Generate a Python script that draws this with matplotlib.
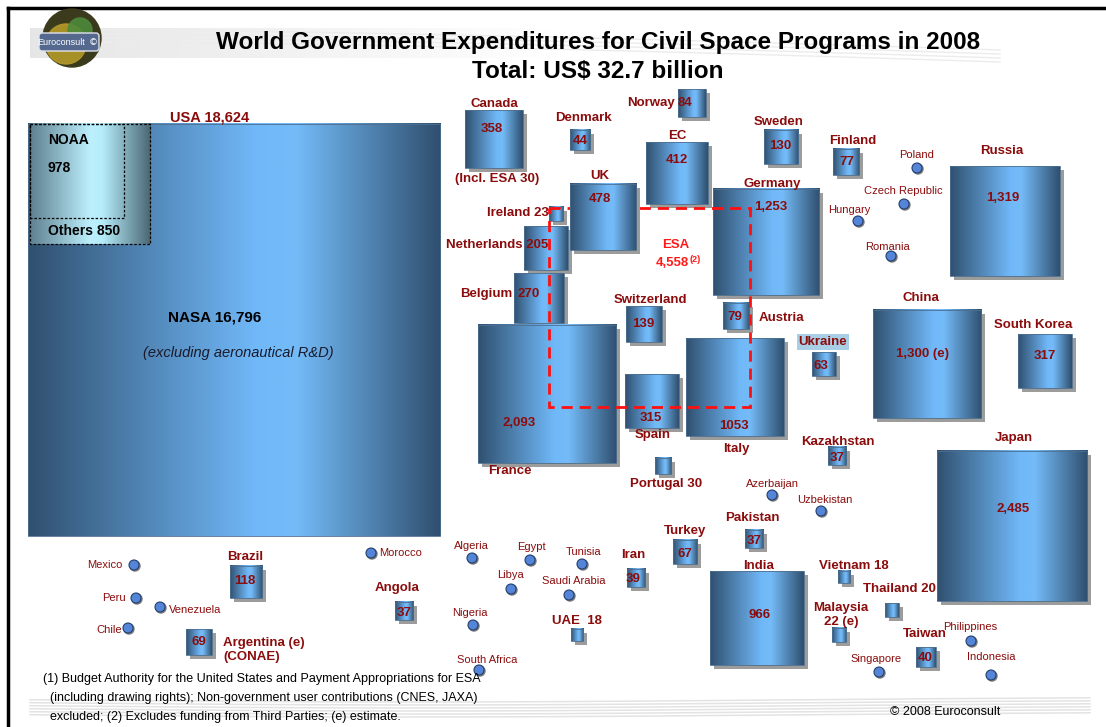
import matplotlib.pyplot as plt
import numpy as np
from matplotlib.colors import LinearSegmentedColormap
from matplotlib.patches import Rectangle, Circle, FancyBboxPatch

# ---- data (US$ million, 2008) ----
countries = ['USA', 'Canada', 'Denmark', 'Norway', 'EC', 'Sweden', 'Finland', 'UK', 'Ireland',
             'Germany', 'Netherlands', 'Belgium', 'Switzerland', 'Austria', 'France', 'Spain',
             'Italy', 'Portugal', 'Ukraine', 'Kazakhstan', 'China', 'South Korea', 'Russia',
             'Japan', 'India', 'Pakistan', 'Turkey', 'Iran', 'UAE', 'Vietnam', 'Thailand',
             'Malaysia', 'Taiwan', 'Brazil', 'Argentina', 'Angola']
values = [18624, 358, 44, 84, 412, 130, 77, 478, 23,
          1253, 205, 270, 139, 79, 2093, 315,
          1053, 30, 63, 37, 1300, 317, 1319,
          2485, 966, 37, 67, 39, 18, 18, 20,
          22, 40, 118, 69, 37]
name_labels = ['USA 18,624', 'Canada', 'Denmark', 'Norway', 'EC', 'Sweden', 'Finland', 'UK', 'Ireland 23',
               'Germany', 'Netherlands 205', 'Belgium', 'Switzerland', 'Austria', 'France', 'Spain',
               'Italy', 'Portugal 30', 'Ukraine', 'Kazakhstan', 'China', 'South Korea', 'Russia',
               'Japan', 'India', 'Pakistan', 'Turkey', 'Iran', 'UAE  18', 'Vietnam 18', 'Thailand 20',
               'Malaysia\n22 (e)', 'Taiwan', 'Brazil', 'Argentina (e)\n(CONAE)', 'Angola']
value_labels = ['', '358', '44', '84', '412', '130', '77', '478', '',
                '1,253', '', '270', '139', '79', '2,093', '315',
                '1053', '', '63', '37', '1,300 (e)', '317', '1,319',
                '2,485', '966', '37', '67', '39', '', '', '',
                '', '40', '118', '69', '37']

usa_parts = ['NOAA', 'Others']
usa_part_values = [978, 850]
nasa_value = 16796
esa_total = 4558

dot_countries = ['Mexico', 'Peru', 'Venezuela', 'Chile', 'Morocco', 'Algeria', 'Egypt', 'Tunisia',
                 'Libya', 'Saudi Arabia', 'Nigeria', 'South Africa', 'Azerbaijan', 'Uzbekistan',
                 'Singapore', 'Indonesia', 'Philippines', 'Poland', 'Czech Republic', 'Hungary', 'Romania']

# ---- layout (pixel positions on the page) ----
SCALE = 3.02  # px per sqrt(US$ million)
sq_centers = [(234, 330), (494, 139), (580, 140), (692, 103), (677, 173), (781, 147), (846, 162),
              (603, 217), (556, 214), (766, 242), (546, 248), (539, 298), (644, 324), (736, 316),
              (547, 394), (652, 401), (735, 387), (663, 466), (824, 364), (837, 456), (927, 364),
              (1045, 361), (1005, 221), (1012, 526), (757, 618), (754, 539), (685, 552), (636, 578),
              (577, 635), (844, 577), (892, 610), (839, 635), (926, 657), (246, 582), (199, 642),
              (404, 611)]
name_xy = [(210, 118, 'center'), (494, 104, 'center'), (583, 118, 'center'), (675, 103, 'right'),
           (677, 136, 'center'), (779, 122, 'center'), (853, 141, 'center'), (600, 176, 'center'),
           (549, 213, 'right'), (772, 184, 'center'), (548, 245, 'right'), (512, 294, 'right'),
           (650, 300, 'center'), (759, 318, 'left'), (510, 471, 'center'), (653, 435, 'center'),
           (736, 449, 'center'), (666, 484, 'center'), (823, 342, 'center'), (838, 442, 'center'),
           (921, 298, 'center'), (1033, 325, 'center'), (1002, 151, 'center'), (1014, 438, 'center'),
           (759, 566, 'center'), (752, 518, 'center'), (685, 531, 'center'), (633, 555, 'center'),
           (577, 621, 'center'), (854, 566, 'center'), (899, 589, 'center'), (841, 615, 'center'),
           (925, 634, 'center'), (245, 557, 'center'), (223, 650, 'left'), (397, 588, 'center')]
value_xy = [None, (492, 129), (580, 141), (685, 103), (677, 160), (780, 146), (847, 162), (600, 199),
            None, (771, 207), None, (529, 294), (643, 324), (735, 317), (519, 423), (651, 418),
            (734, 426), None, (821, 366), (837, 458), (922, 354), (1045, 356), (1003, 198),
            (1013, 509), (760, 615), (754, 541), (685, 554), (633, 579), None, None, None,
            None, (925, 658), (245, 581), (199, 642), (404, 613)]
dot_xy = [(134, 565), (136, 598), (160, 607), (128, 628), (371, 553), (472, 558), (530, 560),
          (582, 564), (511, 589), (569, 595), (473, 625), (479, 670), (772, 495), (821, 511),
          (879, 672), (991, 675), (971, 641), (917, 168), (904, 204), (858, 221), (891, 256)]
dot_label_xy = [(123, 565, 'right'), (126, 598, 'right'), (169, 610, 'left'), (122, 630, 'right'),
                (379, 553, 'left'), (471, 546, 'center'), (531, 547, 'center'), (584, 552, 'center'),
                (510, 575, 'center'), (574, 581, 'center'), (470, 613, 'center'), (487, 660, 'center'),
                (772, 484, 'center'), (825, 500, 'center'), (876, 659, 'center'), (991, 657, 'center'),
                (970, 627, 'center'), (917, 155, 'center'), (903, 191, 'center'), (849, 210, 'center'),
                (888, 247, 'center')]
esa_box = (549, 208, 201, 199)

RED = '#8b0c0c'
FONT = 'Liberation Sans'

sq_cmap = LinearSegmentedColormap.from_list(
    'sq', [(0, '#30506f'), (0.55, '#70b8f8'), (0.65, '#74bbf8'), (1, '#2f4f6e')])
noaa_cmap = LinearSegmentedColormap.from_list(
    'noaa', [(0, '#5f8090'), (0.5, '#bdf0fd'), (0.6, '#b6ecfa'), (1, '#4a6672')])
grad = np.linspace(0, 1, 256).reshape(1, -1)


def gradient_square(ax, x0, y0, side, cmap, z, shadow=True):
    if shadow:
        ax.add_patch(Rectangle((x0 + 4, y0 + 4), side, side, color='#9c9c9c', lw=0, zorder=z - 0.1))
    ax.imshow(grad, cmap=cmap, extent=(x0, x0 + side, y0 + side, y0), aspect='auto',
              interpolation='bilinear', zorder=z)
    ax.add_patch(Rectangle((x0, y0), side, side, fill=False, ec='#4d6f90', lw=0.6, zorder=z + 0.05))


fig = plt.figure(figsize=(11.06, 7.27), dpi=100)
ax = fig.add_axes([0, 0, 1, 1])
ax.axis('off')

# page frame
ax.plot([8, 1106], [8, 8], color='black', lw=2.5, zorder=1)
ax.plot([8, 8], [8, 727], color='black', lw=2.5, zorder=1)

# gray swooshes
band = np.zeros((1, 256, 4))
band[..., :3] = 0.86
band[..., 3] = np.linspace(0.7, 0.0, 256)
ax.imshow(band, extent=(30, 560, 58, 28), aspect='auto', interpolation='bilinear', zorder=0.5)
xs = np.linspace(100, 1000, 200)
for k in range(4):
    ax.plot(xs, 30 + k * 4 + 20 * ((xs - 100) / 900) ** 1.5, color='#ececec', lw=1.0, zorder=0.5)
xs = np.linspace(30, 1090, 200)
for k in range(6):
    ax.plot(xs, 712 - k * 3 + 5 * np.exp(-((xs - 420) / 500) ** 2), color='#e3e3e3',
            lw=1.1, zorder=0.5)

# logo
ax.add_patch(Circle((72, 38), 29, color='#3b3a1c', zorder=5))
ax.add_patch(Circle((66, 44), 20, color='#b59a2a', alpha=0.9, zorder=5.1))
ax.add_patch(Circle((80, 30), 12, color='#4d8a3a', alpha=0.9, zorder=5.2))
ax.add_patch(FancyBboxPatch((40, 34), 58, 16, boxstyle='round,pad=1,rounding_size=3',
                            fc='#55698f', ec='#dfe3ec', lw=1, zorder=6))
ax.text(61, 42.5, 'Euroconsult', color='white', fontsize=6.5, ha='center', va='center',
        family=FONT, zorder=7)
ax.text(93, 42.5, '\u00a9', color='white', fontsize=6.5, ha='center', va='center', zorder=7)

# title
ax.text(598, 43, 'World Government Expenditures for Civil Space Programs in 2008', fontsize=17.5,
        fontweight='bold', ha='center', va='center', family=FONT, color='black', zorder=8)
ax.text(598, 71, r'Total: US\$ 32.7 billion', fontsize=17.5, fontweight='bold',
        ha='center', va='center', family=FONT, color='black', zorder=8)

# squares
for name, val, (cx, cy) in zip(countries, values, sq_centers):
    side = SCALE * np.sqrt(val)
    z = 4 if name == 'UK' else 2
    gradient_square(ax, cx - side / 2, cy - side / 2, side, sq_cmap, z, shadow=(name != 'USA'))

# USA breakdown: NOAA and others
ux = sq_centers[0][0] - SCALE * np.sqrt(values[0]) / 2 + 2
uy = sq_centers[0][1] - SCALE * np.sqrt(values[0]) / 2
outer = SCALE * np.sqrt(sum(usa_part_values)) * 0.93
inner = SCALE * np.sqrt(usa_part_values[0])
ax.imshow(grad, cmap=noaa_cmap, extent=(ux, ux + outer, uy + outer, uy), aspect='auto',
          interpolation='bilinear', zorder=2.2)
ax.add_patch(Rectangle((ux, uy), outer, outer, fill=False, ec='black', ls=(0, (2, 1.5)), lw=0.9, zorder=2.3))
ax.add_patch(Rectangle((ux, uy), inner, inner, fill=False, ec='black', ls=(0, (2, 1.5)), lw=0.9, zorder=2.3))
ax.text(ux + 18, uy + 16, usa_parts[0], fontsize=10, fontweight='bold', family=FONT, va='center', zorder=3)
ax.text(ux + 18, uy + 44, f'{usa_part_values[0]}', fontsize=10, fontweight='bold', family=FONT,
        va='center', zorder=3)
ax.text(ux + outer / 2 - 6, uy + 107, f'{usa_parts[1]} {usa_part_values[1]}', fontsize=10,
        fontweight='bold', family=FONT, ha='center', va='center', zorder=3)
ax.text(215, 318, f'NASA {nasa_value:,}', fontsize=11, fontweight='bold', family=FONT,
        ha='center', va='center', zorder=3)
ax.text(238, 353, '(excluding aeronautical R&D)', fontsize=10.5, style='italic', family=FONT,
        color='#1a1a2a', ha='center', va='center', zorder=3)

# ESA dashed frame
ex, ey, ew, eh = esa_box
ax.add_patch(Rectangle((ex, ey), ew, eh, fill=False, ec='#ff1010', ls=(0, (4, 2.5)), lw=2, zorder=3))
ax.text(676, 245, 'ESA', color='#ff1a1a', fontsize=9.5, fontweight='bold', family=FONT,
        ha='center', va='center', zorder=9)
ax.text(672, 263, f'{esa_total:,}', color='#ff1a1a', fontsize=9.5, fontweight='bold', family=FONT,
        ha='center', va='center', zorder=9)
ax.text(690, 259, '(2)', color='#ff1a1a', fontsize=6.5, fontweight='bold', family=FONT,
        ha='left', va='center', zorder=9)

# country labels
for name, lab, (x, y, ha) in zip(countries, name_labels, name_xy):
    fs = 10.5 if name == 'USA' else 9.5
    kw = {}
    if name == 'Ukraine':
        kw['bbox'] = dict(boxstyle='square,pad=0.12', fc='#a9cfe6', ec='none')
    ax.text(x, y, lab, color=RED, fontsize=fs, fontweight='bold', family=FONT, ha=ha, va='center',
            linespacing=1.15, zorder=9, **kw)
ax.text(497, 179, '(Incl. ESA 30)', color=RED, fontsize=9.5, fontweight='bold', family=FONT,
        ha='center', va='center', zorder=9)

for lab, pos in zip(value_labels, value_xy):
    if pos is None:
        continue
    ax.text(pos[0], pos[1], lab, color=RED, fontsize=9.5, fontweight='bold', family=FONT,
            ha='center', va='center', zorder=9)

# countries without a square
for name, (x, y), (lx, ly, ha) in zip(dot_countries, dot_xy, dot_label_xy):
    ax.add_patch(Circle((x + 1, y + 1), 5, color='#7a7a7a', zorder=5))
    ax.add_patch(Circle((x, y), 5, fc='#5585d8', ec='#23406e', lw=0.8, zorder=6))
    ax.text(lx, ly, name, color=RED, fontsize=8, family=FONT, ha=ha, va='center', zorder=9)

# footnote and credit
foot = ['(1) Budget Authority for the United States and Payment Appropriations for ESA',
        '(including drawing rights); Non-government user contributions (CNES, JAXA)',
        'excluded; (2) Excludes funding from Third Parties; (e) estimate.']
for i, line in enumerate(foot):
    ax.text(43 if i == 0 else 50, 679 + i * 19, line, fontsize=9,
            family=['Liberation Sans Narrow', FONT], ha='left', va='center', zorder=9)
ax.text(945, 712, '\u00a9 2008 Euroconsult', fontsize=9, family=['Liberation Sans Narrow', FONT],
        ha='center', va='center', zorder=9)

ax.set_xlim(0, 1106)
ax.set_ylim(727, 0)
fig.savefig('out.png', dpi=100)
